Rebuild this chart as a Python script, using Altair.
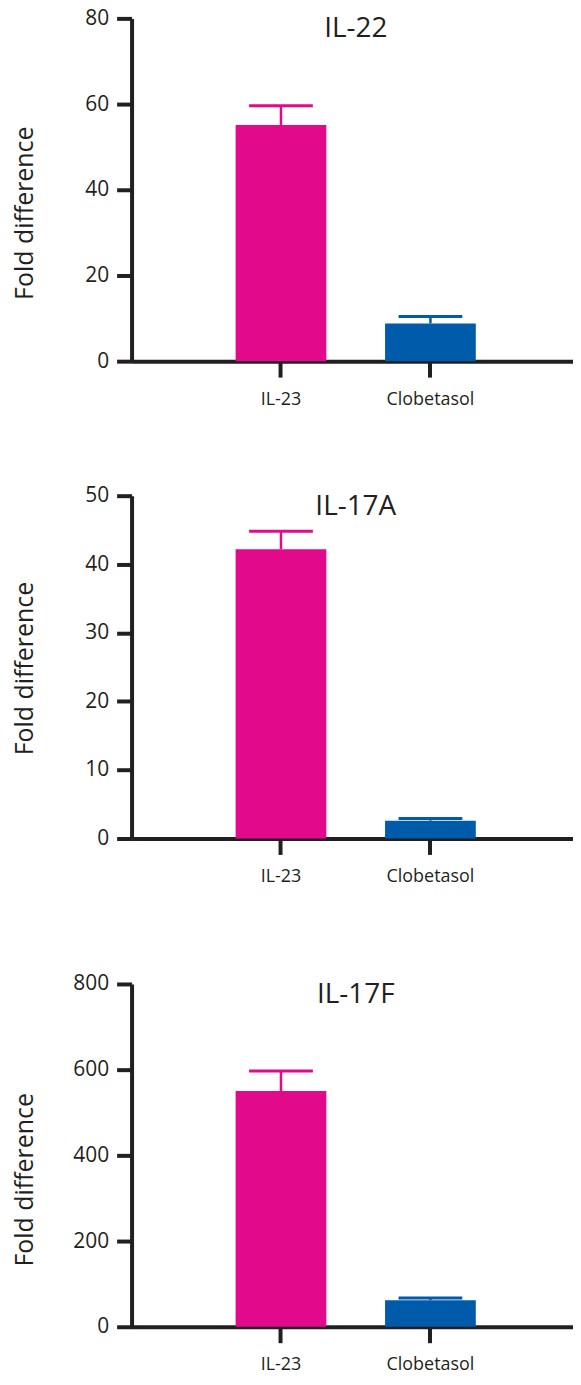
import altair as alt
import pandas as pd

groups = ["IL-23", "Clobetasol"]
bar_colors = ["#E2098B", "#005BAA"]

panel_titles = ["IL-22", "IL-17A", "IL-17F"]
il22_means = [55.1, 8.8]
il22_sem = [4.5, 1.6]
il17a_means = [42.2, 2.6]
il17a_sem = [2.6, 0.3]
il17f_means = [550, 62]
il17f_sem = [47, 5]
y_max = [80, 50, 800]
y_step = [20, 10, 200]

FONT = "Open Sans"
INK = "#231F20"
W, H = 443, 344


def panel(title, means, sems, ymax, ystep, title_y):
    df = pd.DataFrame({"group": groups, "mean": means, "sem": sems})
    df["upper"] = df["mean"] + df["sem"]
    xscale = alt.Scale(domain=groups, paddingInner=0.393, paddingOuter=0.6733, align=0.517)
    x = alt.X("group:N", sort=groups, scale=xscale,
              axis=alt.Axis(title=None, labelAngle=0, tickSize=16, labelPadding=13,
                            labelFontSize=18))
    y = alt.Y("mean:Q", scale=alt.Scale(domain=[0, ymax], nice=False),
              axis=alt.Axis(values=list(range(0, ymax + 1, ystep)),
                            title="Fold difference", titleX=-99, titleY=title_y,
                            titleBaseline="alphabetic", titleAngle=-90,
                            titleFontSize=25, tickSize=15, labelPadding=8,
                            labelFontSize=21))
    color = alt.Color("group:N", scale=alt.Scale(domain=groups, range=bar_colors), legend=None)
    base = alt.Chart(df)
    bars = base.mark_bar().encode(x=x, y=y, color=color)
    rule = base.mark_rule(strokeWidth=2.5, opacity=1).encode(
        x=alt.X("group:N", sort=groups), y="mean:Q", y2="upper:Q", color=color)
    cap = base.mark_tick(orient="horizontal", size=64, thickness=3, opacity=1).encode(
        x=alt.X("group:N", sort=groups), y="upper:Q", color=color)
    head = alt.Chart(pd.DataFrame({"t": [title]})).mark_text(
        font=FONT, fontSize=28, color=INK, align="center", baseline="alphabetic"
    ).encode(text="t:N", x=alt.value(225), y=alt.value(19))
    return alt.layer(bars, rule, cap, head).properties(width=W, height=H)


p1 = panel(panel_titles[0], il22_means, il22_sem, y_max[0], y_step[0], 195)
p2 = panel(panel_titles[1], il17a_means, il17a_sem, y_max[1], y_step[1], 173)
p3 = panel(panel_titles[2], il17f_means, il17f_sem, y_max[2], y_step[2], 196)

chart = alt.vconcat(
    alt.vconcat(p1, p2, spacing=77),
    p3,
    spacing=88,
).properties(
    padding={"left": 5, "top": -3, "right": 0, "bottom": 0}
).configure_view(stroke=None).configure_axis(
    grid=False, domainColor=INK, domainWidth=4, tickColor=INK, tickWidth=4,
    labelFont=FONT, titleFont=FONT, labelColor=INK, titleColor=INK,
    titleFontWeight="normal",
)

chart.save("out.html", embed_options={"renderer": "svg", "actions": False})
